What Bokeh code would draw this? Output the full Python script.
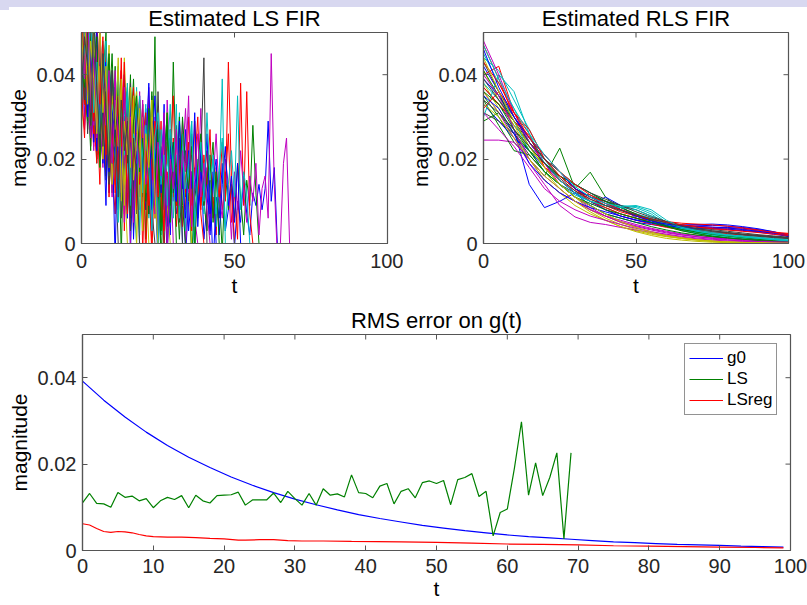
from bokeh.plotting import figure
from bokeh.layouts import column, row
from bokeh.models import FixedTicker, Legend, LegendItem, Range1d, Div
from bokeh.embed import file_html
from bokeh.resources import INLINE

# ---------------- data ----------------
# MATLAB classic line colour order: b g r c m y k
line_colors = ["#0000ff", "#008000", "#ff0000", "#00bfbf", "#bf00bf", "#bfbf00", "#404040"]

# Estimated LS FIR coefficients (units of 1e-3), one list per realisation;
# coefficients are zero after the end of each list (up to t = 99)
ls_fir_milli = [
    [44, 52, 31, 47, 25, 38, 19, 41, 28, 12, 33, 21, 8, 29, 15, 35, -2, 22, 10, 27,
     5, 18, 30, 9, 14, -4, 23, 11, 16, 2, 20, 7, 13, 25, -3, 10, 17, 4, 12, 21,
     1, 9, 15, -6, 11, 6, 19, 3, 8, 13, -1, 10, 5, 16, 7, 2, 12, 9, 14, 8, 13, 29, 10, 18],
    [36, 58, 27, 49, 40, 21, 45, 33, 16, 38, 24, 42, 13, 30, 19, 6, 27, 34, 11, 23,
     17, 8, 29, 14, 49, 3, 20, 12, 25, 9, 43, 15, 1, 18, 11, 22, -5, 14, 7, 19,
     10, 3, 16, 24, 5, 12, -2, 17, 8, 14, 6, 19, 11, 2, 15, 9, 28, 12],
    [29, 47, 55, 23, 39, 31, 14, 43, 26, 35, 18, 7, 31, 22, 38, 12, 25, 3, 19, 28,
     10, 24, 16, -3, 21, 13, 29, 6, 17, 11, 25, 4, 14, 20, 8, 30, 12, -1, 18, 9,
     15, 22, 6, 11, 2, 17, 8, 14, 26, 5, 12, 1, 38, 9, 36, 7],
    [41, 34, 56, 28, 44, 19, 37, 30, 46, 22, 31, 15, 40, 26, 9, 33, 20, 14, 37, 11,
     24, 30, 6, 19, 13, 27, 2, 16, 22, 8, 18, 12, 31, 5, 15, 24, 9, -2, 20, 13,
     7, 17, 10, 21, 4, 14, 39],
    [33, 27, 48, 38, 22, 45, 30, 18, 40, 25, 35, 14, 28, 41, 20, 9, 32, 24, 17, 36,
     12, 26, 19, 3, 30, 15, 22, 8, 34, 18, 10, 25, 14, 29, -1, 16, 21, 7, 13, 32,
     9, 18, 3, 15, 26, 11, 6, 20, 14, 1, 17, 8, 22, 12, 5, 16, 10, 19, 2, 13,
     16, 6, 45, 14, -3, 0, 19, 25],
    [52, 39, 46, 30, 55, 36, 24, 42, 33, 47, 21, 38, 29, 16, 44, 25, 12, 31, 36, 19,
     27, 9, 33, 22, 14, 26, 5, 18, 31, 10, 20, 15, 8, 24, 12, 17],
    [38, 49, 26, 43, 35, 20, 46, 29, 39, 14, 32, 22, 41, 11, 28, 34, 17, 25, 7, 30,
     19, 26, 13, 35, 8, 21, 16, -2, 24, 12, 18, 28, 5, 15, 22, 10, 26, 7, 14, 20, 44],
    [47, 30, 41, 53, 26, 37, 44, 21, 34, 27, 40, 18, 29, 36, 13, 24, 31, 9, 26, 20,
     14, 32, 7, 23, 17, 28, 11, 19, 4, 25, 16, 9, 21, 13, 27, 3, 12, 18, 6, 23,
     11, 15, 2, 17],
    [30, 44, 37, 22, 50, 29, 41, 34, 18, 31, 45, 23, 15, 35, 28, 10, 26, 39, 16, 21,
     30, 12, 25, 18, 6, 27, 14, 20, 31, 9, 22],
    [40, 33, 45, 58, 31, 24, 43, 36, 17, 39, 29, 35, 20, 44, 14, 27, 33, 21, 9, 30,
     24, 15, 34, 11, 26, 19, 5, 28, 13, 22, 35, 9, 17, 26, 12, 20, 3, 29, 15, 8,
     21, 14, 27, 6, 18, 11, 24, 10, 43, 16],
    [35, 46, 29, 39, 51, 26, 33, 45, 22, 37, 28, 16, 34, 25, 40, 19, 8, 27, 31, 14,
     22, 33, 10, 18, 26, 4, 20, 15],
    [50, 28, 41, 35, 23, 47, 38, 27, 16, 36, 26, 41, 19, 30, 7, 25, 33, 15, 22, 11,
     29, 20, 37, 13, 24, 2, 18, 28, 10, 21, 14, 26, 8, 19, 32, 12, 17, 6],
    [27, 42, 57, 36, 29, 44, 18, 39, 31, 23, 37, 26, 13, 32, 21, 38, 15, 24, 30, 8, 25, 16],
    [45, 33, 48, 27, 40, 22, 37, 30, 15, 35, 24, 19],
    [31, 45, 38, 49, 24, 40, 32, 19, 43, 28, 22, 37, 25, 14, 30, 36, 11, 27, 20, 32,
     17, 8, 26, 21, 35, 12, 19, 28, 6, 23, 15, 10, 24],
    [42, 36, 29, 54, 33, 45, 23, 38, 31, 20, 41, 27, 33, 18, 25, 37, 12, 29, 22, 34,
     15, 24, 7, 30, 19, 13],
    [36, 25, 50, 42, 30, 19, 38, 47, 24, 31, 15, 34, 26, 21, 39, 8, 28, 18, 33, 14,
     25, 31, 9, 20, 16, 29, 12, 3, 23, 17, 11, 27, 19, 4, 15, 24, 9, 18, 30, 7],
    [48, 39, 31, 46, 27, 42, 35, 24, 38, 29, 17, 33, 22, 36, 14, 27, 20, 11],
    [39, 46, 34, 25, 43, 31, 52, 20, 36, 28, 33, 23, 39, 17, 28, 12, 31, 25, 19, 35,
     10, 24, 18, 29, 6, 21, 14, 26, 11, 19],
    [33, 51, 40, 28, 47, 35, 41, 25, 36, 30, 19, 34, 23, 28, 16],
    [43, 37, 30, 52, 39, 26, 44, 33, 21, 40, 30, 24, 36, 18, 27, 32, 13, 25, 20, 29,
     11, 22, 16, 8],
    [55, 41, 60, 35, 48, 22, 52, 30, 9, 44, 27, -4, 35, 18, 40, 6, 28, 13, 33, -2],
    [40, 62, 35, 51, 27, 45, 18, 39, 50, 24, 12, 37, 29, -3, 31, 22, 40, 8, 26, 17,
     33, 1, 21, 36, 10, 25, -6, 19, 28, 5, 23, 14, 30, 9],
    [47, 33, 58, 42, 26, 53, 37, 20, 46, 11, 34, 28, 15, 41, 3, 30, 24, 37, 8, 19,
     33, -5, 26, 15, 29, 11, 20],
    [36, 53, 44, 29, 57, 33, 24, 48, 38, 16, 40, 27, 5, 32, 21, 38, 13, 26, 34, 2,
     24, 17, 30, 8, 22, -3, 27, 15, 19, 33, 6, 21, 12, 26, 3, 17, 29],
    [58, 43, 37, 55, 28, 46, 31, 20, 43, 35, 11, 39, 24, 30, 5, 27],
    [45, 38, 61, 33, 50, 27, 42, 20, 36, 44, 14, 31, 23, 39, 9, 27, 18, 35, -1, 24,
     30, 12, 20, 34, 6, 26, 15, 21, 9],
    [50, 34, 44, 57, 29, 39, 47, 23, 36, 14, 41, 26, 33, 6, 28, 19, 38, 11, 24, 31,
     3, 22, 16, 29, 9, 36, 14, 20, -4, 27, 12, 18, 25],
    [39, 56, 30, 46, 35, 52, 24, 38, 43, 17, 32, 25, 40, 10, 29, 21, 35, 1, 24, 31,
     15, 22, 38, 8, 19, 27, 12, 33, -3, 18, 24, 10, 29, 15, 6, 22, 13, 31, 4, 17,
     11, 26, 7, 15, 20, 2, 14, 23, 9, 16, 5, 19],
    [43, 37, 52, 28, 41, 49, 23, 36, 30, 45, 19, 27, 38, 12, 31, 24, 6, 29, 35, 17,
     25, 10, 32, 21, 14, 27, 3, 20, 28, 11, 24, 16, 7, 30, 19, 13, 23, -2, 18, 26,
     9, 15, 21, 5, 17],
    [52, 44, 36, 60, 29, 41, 33, 49, 21, 38, 26, 12, 35, 23, 43, 7, 30, 19, 25, 34,
     -2, 22, 14],
    [34, 47, 40, 55, 31, 43, 26, 37, 48, 20, 33, 28, 42, 15, 30, 36, 9, 26, 22, 35,
     12, 28, 18, 3, 25, 31, 14, 21, 9, 27, 17, 33, 6, 23, 13, 19, 29, 4, 16, 24,
     10, 31, 15, 20, 7, 18, 25, 3, 14, 22, 11, 35, 8, 17, 12],
    [46, 39, 57, 31, 44, 25, 50, 36, 28, 41, 19, 34, 27, 12, 37, 22, 30, 5, 26, 18,
     34, 14, 21, 29, 7, 24, 16, 31, -3, 20, 13, 27, 9, 22, 17, 35, 4, 15, 26, 11,
     19, 8],
    [41, 57, 33, 48, 39, 26, 53, 31, 42, 18, 35, 27, 44, 10, 29, 21, 37, 15, 24, 32,
     3, 26, 18, 30, 12],
    [35, 49, 42, 28, 54, 37, 23, 45, 31, 18, 40, 26, 11, 34, 22, 29, 3, 25, 16],
]

# Estimated RLS FIR coefficients (units of 1e-3), sampled at t = 0, 5, ..., 100
rls_t = [0, 5, 10, 15, 20, 25, 30, 35, 40, 45, 50, 55, 60, 65, 70, 75, 80, 85, 90, 95, 100]
rls_fir_milli = [
    [42, 36, 27, 14, 8.5, 10, 12, 9, 7, 6, 5, 4.5, 4, 3.5, 3.4, 3.5, 3.8, 3.6, 3.2, 2.7, 1.6],
    [35, 30, 24, 20, 16, 22.6, 13, 16.9, 11, 8, 6.5, 5.5, 4.2, 3.1, 2.4, 1.8, 1.4, 1.1, 0.8, 0.6, 0.4],
    [40, 42, 31, 26, 18, 16, 13, 11, 9, 8, 6.8, 5.6, 4.8, 4.3, 4.0, 3.6, 3.3, 3.0, 2.8, 2.5, 2.3],
    [45, 38, 32, 24, 20, 16, 14, 12, 10, 9, 8.5, 7, 4.5, 3.5, 3.0, 2.5, 2.2, 1.8, 1.5, 1.2, 1.0],
    [24.5, 24.5, 24, 20, 15, 12, 10, 8, 6.5, 5.5, 4.5, 3.6, 2.9, 2.3, 1.9, 1.5, 1.2, 1.0, 0.8, 0.6, 0.5],
    [38, 32, 26, 20, 15, 12, 9, 7, 5.5, 4, 3, 2.2, 1.6, 1.2, 0.9, 0.6, 0.4, 0.3, 0.2, 0.1, 0.0],
    [37, 33, 28, 24, 19, 16, 13, 11, 10, 8, 6.5, 5.5, 4.5, 3.8, 3.2, 2.7, 2.3, 2.0, 1.7, 1.4, 1.2],
    [33, 29, 25, 22, 18, 14, 11, 9, 11, 9, 6, 5, 4.3, 4.0, 4.2, 4.3, 4.1, 3.8, 3.3, 2.8, 2.0],
    [29, 31, 26, 22, 19, 15, 12, 10, 8.5, 7, 6, 5, 4, 3.2, 2.6, 2.1, 1.7, 1.4, 1.1, 0.9, 0.7],
    [47, 39, 30, 24, 20, 17, 13, 10, 8, 6.5, 5.5, 4.6, 3.8, 3.3, 2.9, 2.6, 2.3, 2.1, 1.9, 1.6, 1.4],
    [44, 41, 34, 27, 20, 15, 12, 10, 9, 8.5, 8.8, 7.5, 5, 3.5, 2.8, 2.3, 1.9, 1.6, 1.3, 1.0, 0.8],
    [36, 31, 25, 19, 14, 9, 6.3, 5, 4.5, 3.8, 3.2, 2.6, 2.0, 1.5, 1.1, 0.8, 0.6, 0.5, 0.4, 0.3, 0.2],
    [41, 34, 28, 22, 17, 13, 10, 8, 6.5, 5, 3.8, 2.8, 2.0, 1.4, 0.9, 0.6, 0.4, 0.3, 0.2, 0.1, 0.1],
    [31, 29, 26, 21, 17, 14, 12, 11.5, 10, 8.5, 7, 5.8, 4.6, 3.8, 3.2, 2.8, 2.5, 2.1, 1.8, 1.5, 1.2],
    [39, 35, 30, 24, 19, 15, 12, 10, 8, 6.5, 5.5, 5, 4.6, 4.4, 4.5, 4.6, 4.4, 4.0, 3.5, 2.8, 1.9],
    [34, 28, 22, 21, 17, 14, 11, 9, 7, 6, 5, 4, 3.2, 2.5, 2.0, 1.6, 1.3, 1.0, 0.8, 0.6, 0.5],
    [37, 33, 29, 25.6, 18, 15, 12.5, 10, 8.5, 7, 6, 5.4, 4.8, 4.4, 4.1, 3.8, 3.6, 3.4, 3.0, 2.7, 2.4],
    [30, 40, 36, 26, 19, 15, 12, 10, 9, 8, 7, 6, 4.5, 3.2, 2.5, 2.0, 1.6, 1.3, 1.1, 0.9, 0.7],
    [48, 40, 31, 24, 19, 14, 11, 8.5, 6.5, 5, 4, 3.2, 2.5, 2.0, 1.6, 1.3, 1.1, 0.9, 0.7, 0.6, 0.5],
    [36, 31, 27, 23, 18, 14, 11, 8, 6, 4.5, 3.3, 2.4, 1.7, 1.2, 0.8, 0.5, 0.3, 0.2, 0.1, 0.1, 0.0],
    [43, 36, 30, 25, 20, 16, 13, 11, 10, 9, 8, 6.5, 5.2, 4.2, 3.5, 3.0, 2.6, 2.2, 1.9, 1.6, 1.3],
    [35, 32, 26, 19, 15, 12, 10, 8.5, 7.5, 6.5, 5.6, 4.8, 4.2, 3.8, 3.6, 3.5, 3.4, 3.1, 2.7, 2.2, 1.7],
    [41, 35, 29, 23, 19, 16, 14, 12, 10, 8.5, 7, 5.5, 4.2, 3.3, 2.7, 2.2, 1.8, 1.4, 1.0, 0.7, 0.4],
    [32, 36, 31, 27, 20, 16, 13, 10.5, 9, 7.5, 6.5, 5.8, 5.2, 4.8, 4.6, 4.4, 4.1, 3.7, 3.2, 2.6, 2.0],
    [38, 34, 29, 22, 17, 14, 11.5, 10, 9, 8.5, 8, 6.5, 4.8, 3.8, 3.1, 2.6, 2.1, 1.7, 1.3, 1.0, 0.7],
    [40, 35, 27, 20, 16, 13, 10, 8, 6.5, 5.2, 4.2, 3.4, 2.7, 2.1, 1.6, 1.2, 0.9, 0.7, 0.5, 0.4, 0.3],
    [33, 30, 25, 20, 16, 13, 10, 7.5, 5.5, 4, 2.8, 1.9, 1.2, 0.8, 0.5, 0.3, 0.2, 0.1, 0.1, 0.0, 0.0],
    [39, 34, 29, 24, 20, 17, 14, 12, 10.5, 9, 7.5, 6.2, 5.2, 4.4, 3.8, 3.3, 2.9, 2.5, 2.1, 1.8, 1.5],
    [46, 37, 30, 25, 21, 17, 13, 11, 9.5, 8, 6.5, 5.3, 4.6, 4.2, 4.0, 3.9, 3.7, 3.3, 2.9, 2.4, 1.8],
    [36, 33, 27, 22, 17, 14, 11, 9.5, 8, 7, 6, 5, 4, 3, 2.3, 1.7, 1.3, 1.0, 0.7, 0.5, 0.3],
    [43, 38, 31, 25, 21, 17, 14, 11.5, 9.5, 8, 6.8, 5.8, 5.0, 4.4, 3.9, 3.5, 3.2, 2.9, 2.6, 2.2, 1.9],
    [47, 39, 32, 26, 21, 17, 13.5, 11, 9.5, 8.8, 9, 8, 5.5, 3.8, 2.9, 2.3, 1.9, 1.5, 1.2, 0.9, 0.6],
    [31, 27, 23, 18, 13, 10, 8, 6.5, 5.5, 4.5, 3.6, 2.8, 2.2, 1.7, 1.3, 1.0, 0.8, 0.6, 0.5, 0.4, 0.3],
    [44, 36, 29, 23, 18, 14, 11, 9, 7, 5.2, 3.8, 2.7, 1.8, 1.2, 0.8, 0.5, 0.3, 0.2, 0.1, 0.1, 0.1],
    [34, 31, 27, 23, 19, 15.5, 12.5, 10.5, 9, 7.8, 6.8, 5.8, 4.9, 4.1, 3.5, 3.0, 2.6, 2.2, 1.9, 1.6, 1.3],
]

# RMS error on g(t)
g0_t = [0, 3, 6, 9, 12, 15, 18, 21, 24, 27, 30, 33, 36, 39, 42, 45, 48, 51, 54, 57,
        60, 63, 66, 69, 72, 75, 78, 81, 84, 87, 90, 93, 96, 99]
g0_vals = [0.0392, 0.0348, 0.0309, 0.0274, 0.0243, 0.0216, 0.0192, 0.0170, 0.0151, 0.0134,
           0.0119, 0.0106, 0.0094, 0.0083, 0.0074, 0.0066, 0.0058, 0.0052, 0.0046, 0.0041,
           0.0036, 0.0032, 0.0029, 0.0026, 0.0023, 0.0020, 0.0018, 0.0016, 0.0014, 0.0013,
           0.0012, 0.0010, 0.0009, 0.0008]
ls_t = list(range(0, 70))
ls_vals = [0.0110, 0.0132, 0.0109, 0.0108, 0.0100, 0.0134, 0.0123, 0.0126, 0.0115, 0.0120,
           0.0099, 0.0115, 0.0123, 0.0118, 0.0127, 0.0099, 0.0128, 0.0115, 0.0110, 0.0127,
           0.0128, 0.0129, 0.0135, 0.0105, 0.0117, 0.0117, 0.0117, 0.0133, 0.0111, 0.0137,
           0.0120, 0.0105, 0.0132, 0.0105, 0.0143, 0.0128, 0.0131, 0.0124, 0.0175, 0.0134,
           0.0132, 0.0122, 0.0149, 0.0155, 0.0108, 0.0137, 0.0143, 0.0122, 0.0157, 0.0161,
           0.0155, 0.0162, 0.0106, 0.0164, 0.0169, 0.0178, 0.0125, 0.0137, 0.0034, 0.0088,
           0.0096, 0.0190, 0.0298, 0.0128, 0.0203, 0.0127, 0.0169, 0.0226, 0.0027, 0.0226]
lsreg_t = [0, 1, 2, 3, 4, 5, 6, 7, 8, 9, 10, 12, 14, 16, 18, 20, 22, 23, 25, 27, 29, 31,
           34, 38, 45, 50, 55, 60, 65, 70, 75, 80, 85, 90, 95, 99]
lsreg_vals = [0.0062, 0.0059, 0.0051, 0.0044, 0.0042, 0.0044, 0.0043, 0.0041, 0.0037, 0.0034,
              0.0032, 0.0031, 0.0031, 0.0030, 0.0028, 0.0027, 0.0024, 0.0024, 0.0025, 0.0025,
              0.0023, 0.0022, 0.0022, 0.0021, 0.0020, 0.0019, 0.0017, 0.0015, 0.0014, 0.0013,
              0.0011, 0.0010, 0.0009, 0.0008, 0.0007, 0.0006]

top_xticks = [0, 50, 100]
bottom_xticks = [0, 10, 20, 30, 40, 50, 60, 70, 80, 90, 100]
yticks = [0, 0.02, 0.04]
ytick_labels = {0: "0", 0.02: "0.02", 0.04: "0.04"}

# ---------------- style ----------------
FONT = "Liberation Sans"
TXT = "#262626"
AX = "#555555"
TICK = 5  # tick length, px
X0, X1, Y0, Y1 = 0, 100, 0, 0.05


def make_fig(title, xticks, fw, fh, bl, br, bt, bb, title_standoff, xl_standoff, xa_standoff):
    p = figure(width=bl + fw + br, height=bt + fh + bb, output_backend="svg", toolbar_location=None,
               x_range=Range1d(X0, X1), y_range=Range1d(Y0, Y1),
               min_border_left=bl, min_border_right=br, min_border_top=bt, min_border_bottom=bb,
               x_axis_label="t", y_axis_label="magnitude")
    p.title.text = title
    p.title.align = "center"
    p.title.text_font = FONT
    p.title.text_font_size = "22px"
    p.title.text_font_style = "normal"
    p.title.text_color = "#000000"
    p.title.standoff = title_standoff
    p.xgrid.visible = False
    p.ygrid.visible = False
    p.outline_line_color = AX
    p.outline_line_width = 1.2
    p.background_fill_color = "white"
    p.border_fill_color = "white"
    for ax, ticks in ((p.xaxis[0], xticks), (p.yaxis[0], yticks)):
        ax.ticker = FixedTicker(ticks=ticks)
        ax.minor_tick_line_color = None
        ax.major_tick_in = TICK
        ax.major_tick_out = 0
        ax.major_tick_line_color = AX
        ax.axis_line_color = AX
        ax.axis_line_width = 1.2
        ax.major_label_text_font = FONT
        ax.major_label_text_font_size = "20px"
        ax.major_label_text_color = TXT
        ax.axis_label_text_font = FONT
        ax.axis_label_text_font_size = "21px"
        ax.axis_label_text_font_style = "normal"
        ax.axis_label_text_color = "#000000"
    p.xaxis[0].major_label_standoff = xl_standoff
    p.xaxis[0].axis_label_standoff = xa_standoff
    p.yaxis[0].major_label_standoff = 6
    p.yaxis[0].axis_label_standoff = 4
    p.yaxis[0].major_label_overrides = ytick_labels
    # mirrored tick marks on the top and right edges of the box
    dy = TICK * (Y1 - Y0) / fh
    dx = TICK * (X1 - X0) / fw
    p.segment(x0=xticks, y0=[Y1] * len(xticks), x1=xticks, y1=[Y1 - dy] * len(xticks),
              line_color=AX, line_width=1)
    p.segment(x0=[X1] * len(yticks), y0=yticks, x1=[X1 - dx] * len(yticks), y1=yticks,
              line_color=AX, line_width=1)
    return p


# page margin is 0: borders place the frames where the reference has them
p1 = make_fig("Estimated LS FIR", top_xticks, 306, 211, 81, 16, 32, 60, 3, 10, 3)
for i, vals in enumerate(ls_fir_milli):
    xs = list(range(len(vals))) + [len(vals), 99]
    ys = [v / 1000 for v in vals] + [0, 0]
    p1.line(xs, ys, line_color=line_colors[i % 7], line_width=1)

p2 = make_fig("Estimated RLS FIR", top_xticks, 305, 211, 80, 19, 32, 60, 3, 10, 3)
for i, vals in enumerate(rls_fir_milli):
    p2.line(rls_t, [v / 1000 for v in vals], line_color=line_colors[i % 7], line_width=1)

p3 = make_fig("RMS error on g(t)", bottom_xticks, 708, 216, 82, 17, 31, 55, 4, 8, 1)
r_g0 = p3.line(g0_t, g0_vals, line_color="#0000ff", line_width=1.2)
r_ls = p3.line(ls_t, ls_vals, line_color="#008000", line_width=1.2)
r_lsreg = p3.line(lsreg_t, lsreg_vals, line_color="#ff0000", line_width=1.2)
legend = Legend(items=[LegendItem(label="g0", renderers=[r_g0]),
                       LegendItem(label="LS", renderers=[r_ls]),
                       LegendItem(label="LSreg", renderers=[r_lsreg])],
                location=(602, 135))
legend.label_text_font = FONT
legend.label_text_font_size = "17px"
legend.label_text_color = "#000000"
legend.glyph_width = 34
legend.glyph_height = 20
legend.label_height = 20
legend.label_standoff = 4
legend.spacing = 1
legend.padding = 4
legend.margin = 0
legend.border_line_color = "#262626"
legend.border_line_width = 1
legend.background_fill_alpha = 1
p3.add_layout(legend, "center")

layout = column(row(p1, p2), p3)

# light strip along the top edge of the reference picture
band = Div(text='<div style="position:fixed;top:0;left:0;width:807px;height:7px;background:#d8d8f0;"></div>'
                '<div style="position:fixed;top:0;left:0;width:9px;height:10px;background:#d8d8f0;"></div>',
           width=0, height=0)

open("out.html", "w").write(file_html([layout, band], INLINE))
